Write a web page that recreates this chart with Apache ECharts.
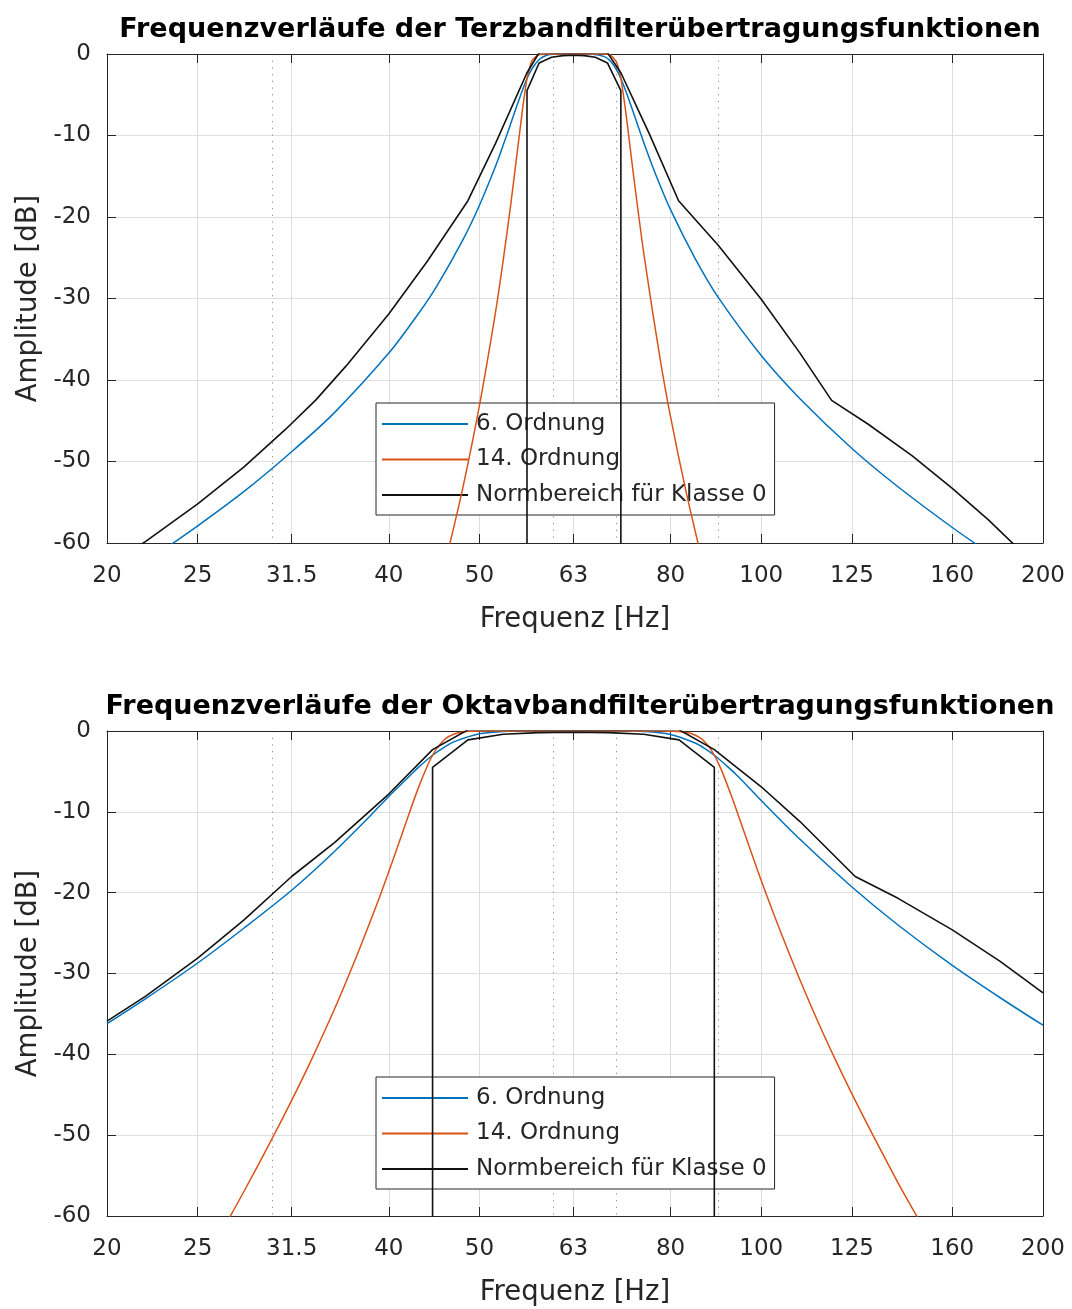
<!DOCTYPE html>
<html><head><meta charset="utf-8">
<script src="https://cdn.jsdelivr.net/npm/echarts@6/dist/echarts.min.js"></script>
<style>html,body{margin:0;padding:0;background:#fff}#c{width:1072px;height:1309px}</style>
</head><body><div id="c"></div>
<script>
// ---------- tick labels ----------
const xTicks = [20, 25, 31.5, 40, 50, 63, 80, 100, 125, 160, 200];
const xMinor = [30, 60, 70, 90];
const seriesNames = ['6. Ordnung', '14. Ordnung', 'Normbereich für Klasse 0'];
const titles = ['Frequenzverläufe der Terzbandfilterübertragungsfunktionen',
                'Frequenzverläufe der Oktavbandfilterübertragungsfunktionen'];

// ---------- Terzband (top) : [Hz, dB] ----------
const terz6 = [[23,-60.8],[25,-57.9],[28,-53.7],[31.5,-48.8],[35,-44.0],[40,-36.7],[43,-31.9],[45,-28.5],
  [48,-22.8],[50,-18.55],[52,-13.8],[53,-11.2],[54,-8.53],[55,-5.88],[56.2,-3.0],[57,-1.66],[58,-0.61],
  [59,-0.16],[60,-0.03],[63,0],[66,-0.02],[68,-0.32],[69,-0.87],[70,-1.87],[70.8,-3.0],[72,-5.17],
  [73,-7.15],[75,-11.03],[77,-14.56],[80,-19.1],[85,-25.1],[90,-29.9],[100,-37.0],[110,-42.3],
  [125,-48.4],[140,-53.1],[160,-58.1],[175,-61.2]];
const terz14 = [[45,-66.5],[46.5,-60.0],[48,-53.2],[50,-43.1],[52,-31.75],[53,-25.35],[54,-18.44],
  [55,-11.05],[55.6,-6.7],[55.9,-4.78],[56.2,-3.0],[56.4,-2.26],[56.7,-1.28],[57,-0.68],[58,-0.05],
  [59,0],[63,0],[68,-0.01],[69,-0.13],[70,-0.93],[70.4,-1.78],[70.8,-3.0],[71.5,-6.3],[72,-9.0],
  [73,-14.65],[75,-24.9],[78,-37.5],[80,-44.5],[83,-53.4],[86,-61.0]];
const terzUpper = [[20,-62.8],[22,-59.8],[25,-55.2],[28,-50.7],[31,-46.1],[33.4,-42.5],[36,-38.3],
  [40,-31.9],[44,-25.4],[48.6,-18.0],[52,-11.0],[56.2,-2.3],[57.9,0.15],[68.5,0.15],[70.8,-2.3],
  [76,-9.9],[81.6,-18.0],[90,-23.5],[100,-30.1],[110,-36.7],[118.9,-42.5],[130,-45.4],[145,-49.3],
  [160,-53.3],[175,-57.2],[193.4,-62.0],[200,-62.6]];
const terzLower = [[56.2,-100],[56.2,-4.5],[57.9,-1.1],[59.7,-0.4],[61.4,-0.2],[63,-0.15],[64.7,-0.2],
  [66.5,-0.4],[68.5,-1.1],[70.8,-4.5],[70.8,-100]];

// ---------- Oktavband (bottom) : [Hz, dB] ----------
const okt6 = [[20,-36.2],[22,-33.1],[25,-28.7],[28,-24.4],[31.5,-19.7],[35,-14.9],[38,-10.8],[40,-8.1],
  [42,-5.7],[43,-4.53],[44.55,-3.0],[46,-1.89],[47,-1.31],[50,-0.34],[53,-0.06],[56,0],[70,0],[75,-0.06],
  [80,-0.42],[85,-1.48],[87,-2.15],[89.1,-3.0],[92,-4.38],[95,-5.9],[100,-8.6],[110,-13.4],[125,-19.3],
  [140,-24.0],[160,-29.0],[180,-33.0],[200,-36.4]];
const okt14 = [[27,-60.3],[28,-57.0],[30,-50.5],[31.5,-45.7],[33,-40.9],[35,-34.4],[37,-27.7],[39,-20.9],
  [40,-17.4],[41,-13.9],[42,-10.4],[43,-7.1],[44,-4.26],[44.55,-3.0],[45,-2.18],[46,-0.95],[47,-0.37],
  [48,-0.13],[49,-0.04],[51,0],[78,0],[80,-0.02],[82,-0.08],[84,-0.28],[86,-0.83],[87,-1.32],[88,-2.0],
  [89.1,-3.0],[90,-4.01],[91,-5.27],[93,-8.13],[95,-11.16],[100,-18.5],[105,-25.0],[110,-30.8],
  [115,-36.0],[120,-40.65],[125,-44.9],[130,-48.8],[140,-55.9],[146,-59.65],[148,-60.85]];
const oktUpper = [[20,-35.9],[22,-32.8],[25,-28.1],[28,-23.4],[31.5,-18.0],[35,-13.8],[40,-7.8],
  [44.55,-2.3],[48.6,0.15],[81.7,0.15],[89.1,-2.3],[100,-6.9],[110,-11.2],[126,-18.0],[140,-20.7],
  [160,-24.6],[180,-28.5],[200,-32.4]];
const oktLower = [[44.55,-100],[44.55,-4.5],[48.6,-1.1],[53,-0.4],[57.8,-0.2],[63,-0.15],[68.7,-0.2],
  [74.9,-0.4],[81.7,-1.1],[89.1,-4.5],[89.1,-100]];

const FONT = 'DejaVu Sans';
const AX = '#262626';
const colors = ['#0072BD', '#D95319', '#111111'];

const grids = [
  {left: 107, top: 54, width: 936, height: 489},
  {left: 107, top: 731, width: 936, height: 485}
];
const fmt = v => String(Math.round(v * 10) / 10);

const xAxis = [], yAxis = [], series = [], title = [], legend = [];
const panels = [
  {data: [terz6, terz14, terzUpper, terzLower], titleTop: 11, legendTop: 403},
  {data: [okt6, okt14, oktUpper, oktLower], titleTop: 688, legendTop: 1077}
];
panels.forEach((p, g) => {
  const xb = xAxis.length;
  xAxis.push({
    type: 'log', logBase: 10, gridIndex: g, min: 20, max: 200, position: 'bottom',
    axisLine: {show: true, onZero: false, lineStyle: {color: AX, width: 1}},
    axisTick: {show: true, inside: true, length: 9, customValues: xTicks, lineStyle: {color: AX}},
    axisLabel: {show: true, customValues: xTicks, margin: 22, fontSize: 23, color: AX, fontFamily: FONT, formatter: fmt},
    splitLine: {show: true, lineStyle: {color: '#dedede', width: 1}},
    name: 'Frequenz [Hz]', nameLocation: 'middle', nameGap: 63,
    nameTextStyle: {fontSize: 27.5, color: AX, fontFamily: FONT}
  });
  xAxis.push({
    type: 'log', logBase: 10, gridIndex: g, min: 20, max: 200, position: 'top',
    axisLine: {show: true, onZero: false, lineStyle: {color: AX, width: 1}},
    axisTick: {show: true, inside: true, length: 9, customValues: xTicks, lineStyle: {color: AX}},
    axisLabel: {show: false, customValues: xTicks},
    splitLine: {show: false}
  });
  xAxis.push({
    type: 'log', logBase: 10, gridIndex: g, min: 20, max: 200, position: 'bottom',
    axisLine: {show: false, onZero: false},
    axisTick: {show: false, customValues: xMinor},
    axisLabel: {show: false, customValues: xMinor},
    splitLine: {show: true, lineStyle: {color: '#8c8c8c', width: 1, type: [1.2, 5.5]}}
  });
  const yb = yAxis.length;
  yAxis.push({
    type: 'value', gridIndex: g, min: -60, max: 0, interval: 10, position: 'left',
    axisLine: {show: true, onZero: false, lineStyle: {color: AX, width: 1}},
    axisTick: {show: true, inside: true, length: 9, lineStyle: {color: AX}},
    axisLabel: {margin: 16, fontSize: 23, color: AX, fontFamily: FONT, padding: [7, 0, 0, 0]},
    splitLine: {show: true, lineStyle: {color: '#dedede', width: 1}},
    name: 'Amplitude [dB]', nameLocation: 'middle', nameGap: 62, nameRotate: 90,
    nameTextStyle: {fontSize: 27.5, color: AX, fontFamily: FONT}
  });
  yAxis.push({
    type: 'value', gridIndex: g, min: -60, max: 0, interval: 10, position: 'right',
    axisLine: {show: true, onZero: false, lineStyle: {color: AX, width: 1}},
    axisTick: {show: true, inside: true, length: 9, lineStyle: {color: AX}},
    axisLabel: {show: false}, splitLine: {show: false}
  });
  const nm = [seriesNames[0], seriesNames[1], seriesNames[2], seriesNames[2]];
  const col = [colors[0], colors[1], colors[2], colors[2]];
  p.data.forEach((d, i) => {
    series.push({
      type: 'line', name: nm[i], xAxisIndex: xb, yAxisIndex: yb, data: d,
      showSymbol: false, symbol: 'none', clip: true,
      smooth: i < 2 ? 0.3 : false,
      lineStyle: {color: col[i], width: i >= 2 ? 1.6 : 1.5},
      itemStyle: {color: col[i]}, z: 3 + i
    });
  });
  title.push({
    text: titles[g], left: 575, top: p.titleTop, textAlign: 'center',
    textStyle: {fontSize: 27, fontWeight: 'bold', color: '#000', fontFamily: FONT}
  });
  legend.push({
    orient: 'vertical', left: 376, top: p.legendTop, padding: [9, 8, 8, 6],
    icon: 'rect', itemWidth: 86, itemHeight: 2, itemGap: 11.5,
    borderColor: AX, borderWidth: 1, backgroundColor: '#fff',
    selectedMode: false, data: seriesNames,
    textStyle: {fontSize: 23, color: AX, fontFamily: FONT, lineHeight: 24, padding: [0, 0, 0, 3]}
  });
});

const chart = echarts.init(document.getElementById('c'), null, {renderer: 'canvas'});
chart.setOption({
  animation: false, backgroundColor: '#fff',
  title, legend, grid: grids, xAxis, yAxis, series
});
</script></body></html>
